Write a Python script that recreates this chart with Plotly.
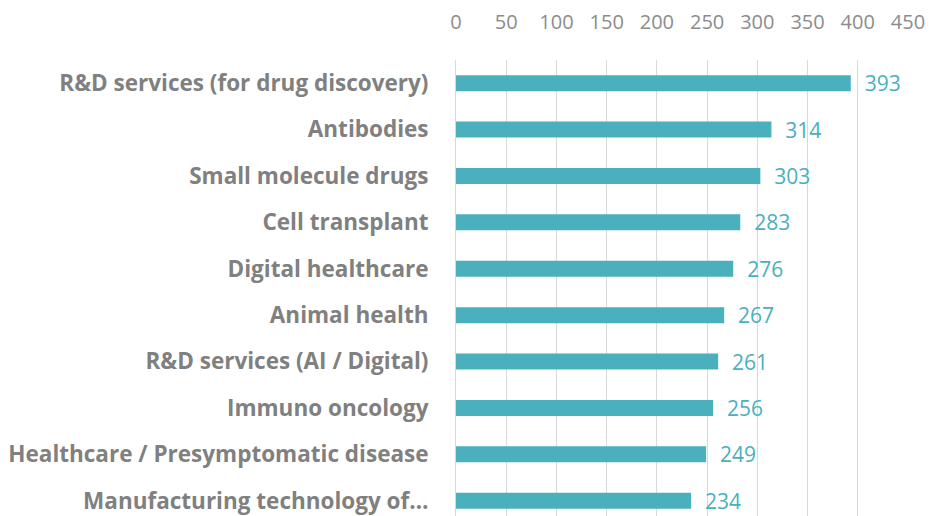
import plotly.graph_objects as go

categories = [
    "R&D services (for drug discovery)",
    "Antibodies",
    "Small molecule drugs",
    "Cell transplant",
    "Digital healthcare",
    "Animal health",
    "R&D services (AI / Digital)",
    "Immuno oncology",
    "Healthcare / Presymptomatic disease",
    "Manufacturing technology of\u2026",
]
values = [393, 314, 303, 283, 276, 267, 261, 256, 249, 234]
tick_vals = [0, 50, 100, 150, 200, 250, 300, 350, 400, 450]

bar_color = "#4AB0BE"
font_family = "Open Sans, Noto Sans, sans-serif"

fig = go.Figure(
    go.Bar(
        x=values,
        y=categories,
        orientation="h",
        marker=dict(color=bar_color, line=dict(width=0)),
        text=values,
        texttemplate="  %{x}",
        textposition="outside",
        constraintext="none",
        textfont=dict(color=bar_color, size=21, family=font_family),
        cliponaxis=False,
    )
)

fig.update_layout(
    width=930,
    height=516,
    margin=dict(l=456, r=22, t=60, b=0),
    plot_bgcolor="white",
    paper_bgcolor="white",
    bargap=0.655,
    showlegend=False,
    font=dict(family=font_family),
)

fig.update_xaxes(
    side="top",
    range=[0, 450],
    tickvals=tick_vals,
    showgrid=True,
    gridcolor="#D9D9D9",
    gridwidth=1,
    zeroline=False,
    showline=False,
    ticks="",
    tickfont=dict(size=20, color="#8C8C8C", family=font_family),
    ticklabelstandoff=26,
    automargin=False,
)

fig.update_yaxes(
    type="category",
    categoryorder="array",
    categoryarray=categories,
    range=[9.33, -0.5],
    showgrid=False,
    showline=True,
    linecolor="#D9D9D9",
    linewidth=1,
    ticks="",
    tickfont=dict(size=22.5, color="#808080", family="Open Sans, sans-serif", weight="bold"),
    ticklabelstandoff=22,
    automargin=False,
)

# remove the default 8px page margin so the figure fills the window exactly
fig.write_html(
    "out.html",
    config={"displayModeBar": False},
    post_script="document.body.style.margin='0';document.body.style.overflow='hidden';",
)
